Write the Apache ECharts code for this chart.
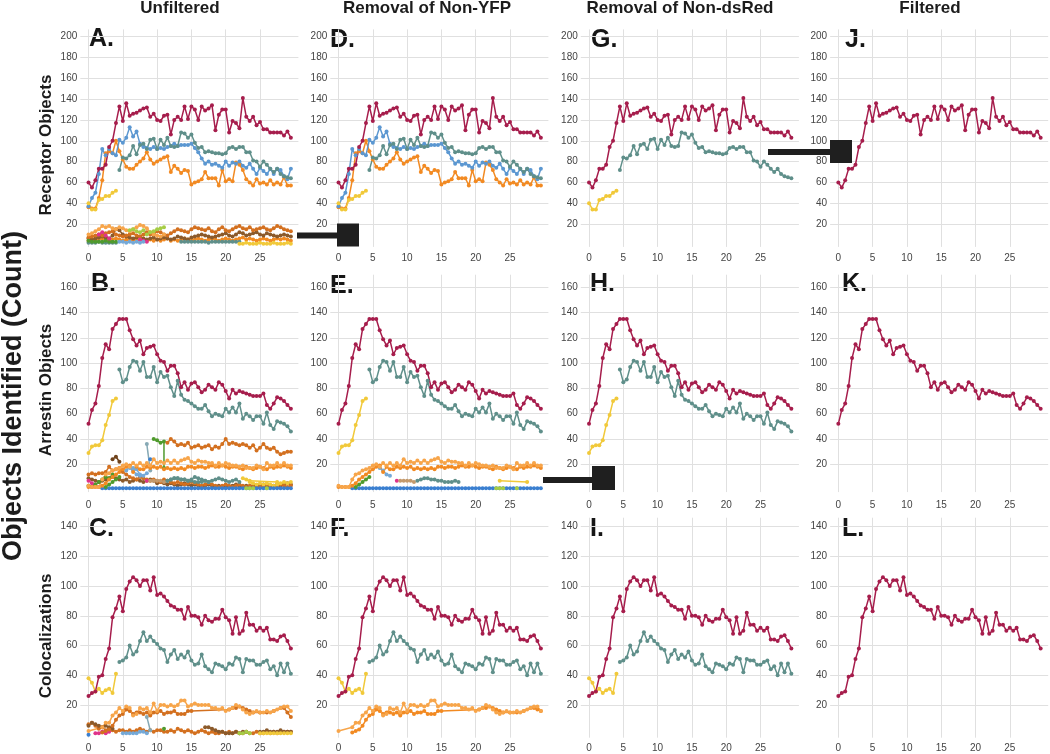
<!DOCTYPE html>
<html><head><meta charset="utf-8">
<script src="https://cdn.jsdelivr.net/npm/echarts@6/dist/echarts.min.js"></script>
<style>html,body{margin:0;padding:0;background:#fff;}#c{width:1050px;height:754px;}</style>
</head><body><div id="c"></div>
<script>
// ---------- labels ----------
const STEP = 0.5;
const X_TICKS = [0, 5, 10, 15, 20, 25];
const Y_TICKS_REC = [20, 40, 60, 80, 100, 120, 140, 160, 180, 200];
const Y_TICKS_ARR = [20, 40, 60, 80, 100, 120, 140, 160];
const Y_TICKS_COL = [20, 40, 60, 80, 100, 120, 140];
const COL_TITLES = ['Unfiltered', 'Removal of Non-YFP', 'Removal of Non-dsRed', 'Filtered'];
const ROW_TITLES = ['Receptor Objects', 'Arrestin Objects', 'Colocalizations'];
const MAIN_TITLE = 'Objects Identified (Count)';
const PANEL_LETTERS = ['A.', 'D.', 'G.', 'J.', 'B.', 'E.', 'H.', 'K.', 'C.', 'F.', 'I.', 'L.'];

// ---------- Receptor objects (row 1) ----------
const recRed = [60,55,62,73,73,77,94,100,117,133,119,136,124,126,127,129,131,132,123,126,120,119,124,125,106,120,123,120,133,121,133,130,120,133,129,131,134,110,125,130,130,108,119,117,112,141,123,119,123,115,118,111,111,108,108,108,108,105,109,103];
const recTeal = [72,84,83,86,95,87,96,97,92,101,102,92,101,96,103,95,94,95,108,107,103,106,98,93,94,89,90,89,88,88,87,88,93,94,92,94,94,89,89,81,80,75,80,77,73,70,73,68,66,65,64]; // from x=4.5
const recBlue = [37,45,50,68,92,86,92,88,86,101,98,103,113,104,109,97,94,93,92,94,92,93,92,94,95,97,95,96,96,96,97,93,89,83,78,80,77,78,76,74,80,76,79,78,80,76,74,78,73,68,74,71,68,73,68,73,72,66,63,73];
const recOrange = [36,35,35,45,62,88,90,88,100,90,82,75,73,73,77,80,83,89,82,78,80,82,84,85,70,76,73,69,72,71,58,60,61,63,70,64,64,64,57,72,61,63,61,79,77,72,63,60,57,63,59,60,58,62,58,60,58,65,57,57];
const recYellow = [40,34,34,43,44,47,47,50,52];
// unfiltered extra receptor objects
const recMinO1 = [10,11,13,15,18,17,18,16,15,17,16,14,13,15,17,19,18,16,12,10,9,8,10]; // x 0-11
const recMinO2 = [7,8,9,10,9,11,12,13,10,9,8,9,10,11,9,8,10,12,10,11,13,12,10,9,11,13,15,14,13,12,15,17,16,15,14,16,13,12,15,17,14,13,15,17,18,16,15,17,14,15,16,17,15,14,16,18,17,15,14,13];
const recMinBr = [6,5,6,7,8,7,6,9,15,14,10,8,7,6,7,8,6,5,6,7,5,6,7,6,5,6,8,7,6,5,7,8,9,10,9,8,7,8,9,10,11,9,8,10,12,11,9,10,11,12,10,9,11,10,9,8,9,10,9,8];
const recMinO3 = [4,5,4,5,6,5,4,5,6,5,4,5,4,5,4,5,6,4,5,4,5,4,5,6,4,5,4,5,6,5,4,5,6,5,4,5,6,5,4,5,6,5,4,5,6,7,5,6,5,4,5,6,5,4,5,6,5,6,5,4];
const recMinTealA = [2,2,2,3,2,2,2,2,2]; // x 0-4
const recMinTealB = [3,3,3,3,3,3,3,3,2,3,3,3,3,3,3,3,3,3]; // x 13.5-22
const recMinGreen = [4,3,3,3,3,4,3,3,3]; // x 0-4
const recMinPinkA = [10,12,9,6]; // x 1.5-3
const recMinPinkB = [5,4,3]; // x 7.5-8.5
const recMinLGreen = [14,15,13,12,14,10,12,13,15,16,17]; // x 6-11
const recMinBlue = [3,3,2,3,2,3,2,3]; // x 4.5-8
const recMinYellow = [1,1,2,1,1,1,2,1,1,1,2,1,1,1,2,1]; // x 22-29.5

// ---------- Arrestin objects (row 2) ----------
const arrRed = [52,63,68,82,104,115,111,127,131,135,135,135,126,119,114,118,107,112,113,114,107,102,101,94,98,98,92,81,85,79,84,85,81,77,79,83,81,79,85,83,78,72,79,76,78,77,76,75,74,74,74,76,67,64,68,73,72,70,67,64];
const arrTeal = [95,85,87,97,102,101,94,101,89,89,97,85,93,89,90,81,74,86,75,71,70,68,66,64,64,67,62,58,60,59,58,64,61,65,61,68,56,60,58,55,58,58,52,61,51,48,54,53,52,50,46]; // from x=4.5
const arrYellow = [29,34,35,35,39,51,59,70,72];
const arrOrangeL = [3,2,2,2,8,12,13,15,16,17,19,20,18,21,19,21,19,21,19,24,21,22,21,23,21,23,21,23,24,25,22,21,23,22,22,21,21,19,21,19,21,20,19,19,18,19,17,17,17,19,18,16,21,19,19,21,19,21,19,19];
const arrOrangeD = [2,2,2,2,3,5,8,10,12,14,16,18,19,14,18,16,16,18,17,18,17,18,16,17,16,17,16,17,16,18,18,17,18,18,17,18,19,18,18,19,18,17,18,18,17,16,18,17,16,17,18,17,16,18,17,18,18,19,18,17];
const arrBlueBase = [1,1,1,1,1,1,1,1,1,1,1,1,1,1,1,1,1,1,1,1,1,1,1,1,1,1,1,1,1,1,1,1,1,1,1,1,1,1,1,1,1,1,1,1,1,1,1,1,1,1,1,1,1,1,1,1]; // x 2-29.5
const arrGreenS = [2,4,6,8,10]; // x 2.5-4.5
const arrBlueS = [17,15,12,11]; // x 6-7.5
const arrTan = [7,7,7,7,6]; // x 9-11
const arrTealS = [7,8,9,9,8,8,7,7,6,6,6,7,6]; // x 11.5-17.5
const arrYellowS = [[23.5, 7], [27.5, 6]];
const arrPinkDot = [[8.5, 7]];
const arrLGreenDots = [[23, 1], [23.5, 1], [24, 1], [26, 1]];
// unfiltered extra arrestin objects
const arrMinDO = [37,40,38,35,36,35,37,33,34,35,33,34,35,32,34,33,36,40,36,37,36,35,36,35,33,35,31,33,36,33,32,33,30,28,29,30,30]; // x 11.5-29.5
const arrMinGreen = [[9.5, 40], [10, 39], [10.5, 37], [11, 38], [11, 17]];
const arrMinGray = [[8.5, 36], [9, 15]];
const arrMinBlueDot = [[9, 24]];
const arrMinBrown = [24, 26, 22]; // x 3.5-4.5
const arrMinBO = [12,13,12,13,13,14,18,15,16,17,14,12,10,9,8,10,9,8,7,8,7,6,8,7,6,5,6,5,4,5,6,5,4,3,4,5,4,3,2,3,4,3,2,3,4,3,2,3,2,3,2,3,4,3,2,3,4,3,2,3];
const arrMinDB = [9,8,7,6,7,8,9,10,9,8,7,8,6,7,8,7,6,7,8,7,5,6,5,4,5,4,3,4,5,4,3,4,3,2,3,4,3,2,3,2,3,2,3,4,3,2,3,2,3,2,3,4,3,2,3,4,3,4,5,4];
const arrMinTeal = [7,8,9,9,8,8,7,8,10,9,8,7,6,7,8,9,8,7,6,7,8,6]; // x 11.5-22
const arrMinYellow = [9,8,6,5,4,5,4,5,4,3,4,5,6,5,6]; // x 22.5-29.5
const arrMinPink = [7,5,3,2]; // x 0-1.5
const arrMinLBlue = [15,18,17,16,12,11,13]; // x 5.5-8.5
const arrMinGreen2 = [3,2,4,6,8,10,9,12]; // x 0-3.5

// ---------- Colocalizations (row 3) ----------
const colRed = [26,28,29,39,40,51,58,79,85,93,83,98,103,106,104,100,104,104,97,106,94,95,93,90,87,86,84,84,78,86,80,80,79,74,80,77,76,78,78,84,79,77,68,79,68,70,82,74,74,70,72,70,72,64,64,63,66,67,63,58];
const colTeal = [49,50,52,60,54,56,63,69,63,66,63,61,58,57,49,54,57,51,54,52,56,50,47,48,54,46,44,42,48,47,46,44,48,47,52,51,42,51,50,50,47,47,49,50,44,46,40,48,42,48,41]; // from x=4.5
const colYellow = [38,35,29,31,28,30,31,28,41];
const colOrangeLStart = [[0, 2.5]];
const colOrangeL = [5,8,8,13,15,18,16,19,18,13,14,18,17,18,15,21,16,20,20,19,20,19,20,23,23,19,20,21,20,20,20,20,18,18,17,18,16,17,18,20,19,17,15,14,15,16,15,15,16,15,16,17,18,19,19,16]; // x 2-29.5
const colOrangeD = [1.5,2.5,3.5,6,10,13,14,17,16,14,15,15,14,15,13,15,15,16,14,15,15,16,14,14,14,16,16]; // x 2-15
const colOrangeDTail = [[20.5,17],[21,18],[21.5,18],[22,19],[22.5,18],[23,17],[23.5,16],[24,15],[25,15],[26,15],[27,16],[28,18],[28.5,18],[29,17],[29.5,16]];
const colOrangeDTailU = [[20.5,17],[21,18],[21.5,18],[22,19],[22.5,18],[23,17],[23.5,16],[24,15],[25,15],[26,15],[27,16],[28,18],[28.5,18],[29,15],[29.5,12]];
// unfiltered extra colocalizations
const colMinBrown = [6,8,7,6,5,6,5,4]; // x 0-3.5
const colMinDO = [7,8,6,4,5,3,4,3,2,3,3,2,3,2,3,4,3,2,3,2,3,3,2,2,3,2,4,3,2,3,2,1,2,3,2,1,2,1,1,2,1,2,1,2,1,1,2,1,1,2,1,1,2,1,2,1,2,2,2,2];
const colMinGray = [[8.5, 12], [9, 3]];
const colMinGreenDot = [[11, 4]];
const colMinPink = [1,1,2,1,2]; // x 1-3
const colMinBlue = [1,1,1,1,1,2,2,1]; // x 5-8.5
const colMinBlueDot = [[0, 0]];
const colMinBrown2 = [5,5,4,3,2,2,1,1,1,2,1,2,2]; // x 17-23
const colMinYellow = [1,1,1,1,1,1,1,1,1,1]; // x 25-29.5
const colMinLGreen = [1,1,2,1]; // x 22-23.5
const colMinBrown3 = [2,2,3,2,2,2,3,2,2,2]; // x 25-29.5

// ---------- helpers ----------
function seq(x0, vals) { return vals.map((v, i) => [x0 + i * STEP, v]); }
const COL = {
  red: '#a61d4c', teal: '#5f8f8a', blue: '#5b97d1', orange: '#f28a22', yellow: '#f1c93a',
  lorange: '#f7a54a', dorange: '#d3701f', brown: '#8b5a2b', dbrown: '#6f431c', green: '#4f9a2d',
  lgreen: '#a6cd45', pink: '#e0338a', lblue: '#74a9d8', tan: '#c49a6c', gray: '#86a9b5', dblue: '#3a7fd0'
};
function S(data, color) { return { data, color }; }

const rec = [S(seq(0, recOrange), COL.orange), S(seq(0, recBlue), COL.blue), S(seq(4.5, recTeal), COL.teal), S(seq(0, recYellow), COL.yellow), S(seq(0, recRed), COL.red)];
const recMinor = [
  S(seq(0, recMinO3), COL.orange), S(seq(0, recMinBr), COL.brown), S(seq(0, recMinO2), COL.dorange),
  S(seq(0, recMinO1), COL.lorange), S(seq(0, recMinTealA), COL.teal), S(seq(13.5, recMinTealB), COL.teal),
  S(seq(0, recMinGreen), COL.green), S(seq(1.5, recMinPinkA), COL.pink), S(seq(7.5, recMinPinkB), COL.pink),
  S(seq(6, recMinLGreen), COL.lgreen), S(seq(4.5, recMinBlue), COL.lblue), S(seq(22, recMinYellow), COL.yellow)
];
const arrMain = [S(seq(0, arrYellow), COL.yellow), S(seq(4.5, arrTeal), COL.teal), S(seq(0, arrRed), COL.red)];
const arrFilt = [
  S(seq(2, arrBlueBase), COL.dblue), S(arrLGreenDots, COL.lgreen), S(seq(2.5, arrGreenS), COL.green),
  S(seq(6, arrBlueS), COL.lblue), S(arrPinkDot, COL.pink), S(seq(9, arrTan), COL.tan), S(seq(11.5, arrTealS), COL.teal),
  S(arrYellowS, COL.yellow), S(seq(0, arrOrangeD), COL.orange), S(seq(0, arrOrangeL), COL.lorange)
];
const arrMinor = [
  S(seq(0, arrMinDB), COL.brown), S(seq(0, arrMinBO), COL.dorange), S(seq(11.5, arrMinTeal), COL.teal),
  S(seq(22.5, arrMinYellow), COL.yellow), S(seq(0, arrMinPink), COL.pink), S(seq(5.5, arrMinLBlue), COL.lblue),
  S(seq(0, arrMinGreen2), COL.green), S(seq(3.5, arrMinBrown), COL.dbrown), S(arrMinGray, COL.gray),
  S(arrMinBlueDot, COL.dblue), S(arrMinGreen, COL.green), S(seq(11.5, arrMinDO), COL.dorange)
];
const colMain = [S(seq(0, colYellow), COL.yellow), S(seq(4.5, colTeal), COL.teal), S(seq(0, colRed), COL.red)];
const colFilt = [S(seq(2, colOrangeD).concat(colOrangeDTail), COL.orange), S(colOrangeLStart.concat(seq(2, colOrangeL)), COL.lorange)];
const colUnf = [
  S(seq(0, colMinDO), COL.dorange), S(seq(0, colMinBrown), COL.brown), S(colMinGray, COL.gray), S(colMinGreenDot, COL.green),
  S(seq(1, colMinPink), COL.pink), S(seq(5, colMinBlue), COL.lblue), S(colMinBlueDot, COL.dblue), S(seq(17, colMinBrown2), COL.brown),
  S(seq(22, colMinLGreen), COL.lgreen), S(seq(25, colMinBrown3), COL.brown), S(seq(25, colMinYellow), COL.yellow),
  S(seq(2, colOrangeD).concat(colOrangeDTailU), COL.dorange), S(colOrangeLStart.concat(seq(2, colOrangeL)), COL.lorange)
];

const PANELS = [
  recMinor.concat(rec), rec, [rec[3], rec[2], rec[4]], [rec[4]],
  arrMinor.concat(arrFilt, arrMain), arrFilt.concat(arrMain), arrMain, [arrMain[2]],
  colUnf.concat(colMain), colFilt.concat(colMain), colMain, [colMain[2]]
];

// ---------- layout ----------
const COL_LEFT = [80.3, 330.3, 580.8, 830.1];
const GRID_W = 218.1;
const ROWS = [
  { top: 29.4, h: 217.5, max: 207, ticks: Y_TICKS_REC, xm: 6.5 },
  { top: 274.7, h: 217.4, max: 170, ticks: Y_TICKS_ARR, xm: 8 },
  { top: 517.7, h: 220, max: 146, ticks: Y_TICKS_COL, xm: 5.5 }
];
const grids = [], xAxes = [], yAxes = [], series = [];
for (let r = 0; r < 3; r++) {
  for (let c = 0; c < 4; c++) {
    const gi = r * 4 + c;
    grids.push({ left: COL_LEFT[c], top: ROWS[r].top, width: GRID_W, height: ROWS[r].h, containLabel: false });
    xAxes.push({
      type: 'value', gridIndex: gi, min: -1.2, max: 30.6, position: 'bottom',
      axisLine: { show: false, onZero: false },
      axisTick: { show: false, customValues: X_TICKS },
      axisLabel: { customValues: X_TICKS, fontSize: 10, color: '#444', margin: ROWS[r].xm, fontFamily: 'Liberation Sans, Arial' },
      splitLine: { show: true, lineStyle: { color: '#e0e0e0', width: 1 } }
    });
    yAxes.push({
      type: 'value', gridIndex: gi, min: -2, max: ROWS[r].max,
      axisLine: { show: false, onZero: false },
      axisTick: { show: false, customValues: ROWS[r].ticks },
      axisLabel: { customValues: ROWS[r].ticks, fontSize: 10, color: '#444', margin: 3, fontFamily: 'Liberation Sans, Arial' },
      splitLine: { show: true, lineStyle: { color: '#e0e0e0', width: 1 } }
    });
    PANELS[gi].forEach(s => {
      series.push({
        type: 'line', xAxisIndex: gi, yAxisIndex: gi, data: s.data, silent: true,
        symbol: 'circle', symbolSize: 4, showSymbol: true,
        lineStyle: { color: s.color, width: 1.5 }, itemStyle: { color: s.color },
        emphasis: { disabled: true }, animation: false
      });
    });
  }
}

// ---------- texts & connectors ----------
const FONT = '"Liberation Sans", Arial, sans-serif';
const graphics = [];
const TITLE_X = [180, 427, 680, 930];
COL_TITLES.forEach((t, i) => graphics.push({ type: 'text', x: TITLE_X[i], y: 8, style: { text: t, textAlign: 'center', textVerticalAlign: 'middle', font: 'bold 17px ' + FONT, fill: '#1c1c1c' } }));
graphics.push({ type: 'text', x: 14, y: 396, rotation: Math.PI / 2, style: { text: MAIN_TITLE, textAlign: 'center', textVerticalAlign: 'middle', font: 'bold 27px ' + FONT, fill: '#1c1c1c' } });
const ROW_Y = [145, 390, 636];
ROW_TITLES.forEach((t, i) => graphics.push({ type: 'text', x: 46, y: ROW_Y[i], rotation: Math.PI / 2, style: { text: t, textAlign: 'center', textVerticalAlign: 'middle', font: 'bold 17px ' + FONT, fill: '#1c1c1c' } }));
const LETTER_POS = [[89, 39], [330, 40], [591, 40], [845, 40], [91, 284], [330, 286], [590, 284], [842, 284], [89, 529], [330, 529], [590, 529], [842, 529]];
PANEL_LETTERS.forEach((t, i) => graphics.push({ type: 'text', x: LETTER_POS[i][0], y: LETTER_POS[i][1], style: { text: t, textAlign: 'left', textVerticalAlign: 'middle', font: 'bold 25px ' + FONT, fill: '#161616' } }));
const RECTS = [
  [297, 232.5, 41, 6], [337, 223.5, 22, 23],
  [768, 149, 63, 6], [830, 140, 22, 23],
  [543, 477, 50, 6], [592, 466, 23, 24]
];
RECTS.forEach(b => graphics.push({ type: 'rect', shape: { x: b[0], y: b[1], width: b[2], height: b[3] }, style: { fill: '#1f1f1f' }, z: 100 }));

const chart = echarts.init(document.getElementById('c'), null, { renderer: 'canvas' });
chart.setOption({
  animation: false, backgroundColor: '#fff',
  grid: grids, xAxis: xAxes, yAxis: yAxes, series: series, graphic: graphics
});
</script></body></html>
